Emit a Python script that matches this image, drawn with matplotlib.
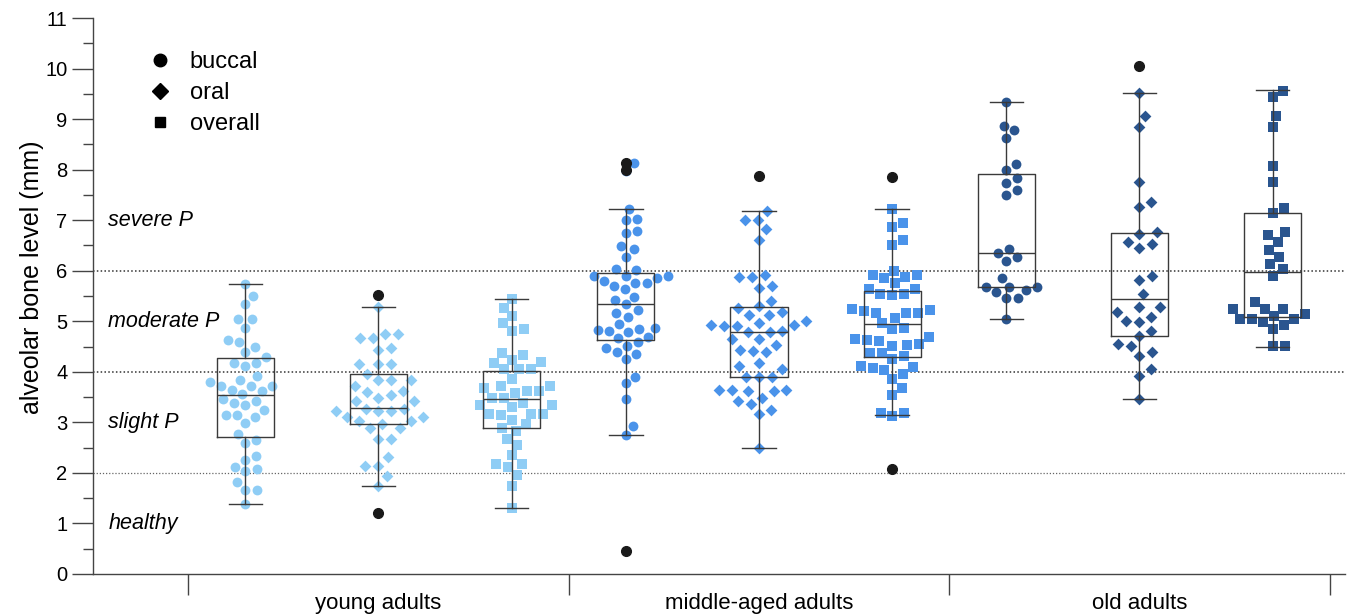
import numpy as np
import matplotlib
matplotlib.use("Agg")
import matplotlib.pyplot as plt
from matplotlib.lines import Line2D

plt.rcParams["font.family"] = ["Liberation Sans", "DejaVu Sans"]

groups = ["young adults", "middle-aged adults", "old adults"]
sites = ["buccal", "oral", "overall"]
site_markers = ["o", "D", "s"]
group_colors = ["#8fcdf5", "#4a93ea", "#2a558f"]
zones = ["healthy", "slight P", "moderate P", "severe P"]
zone_levels = [1, 3, 5, 7]
cutoffs = [2, 4, 6]

young_buccal = [5.73, 5.50, 5.34, 5.05, 5.05, 4.87, 4.63, 4.58, 4.50, 4.39, 4.29, 4.18, 4.18,
                4.11, 3.91, 3.83, 3.80, 3.72, 3.72, 3.72, 3.65, 3.62, 3.56, 3.47, 3.42, 3.38,
                3.34, 3.25, 3.15, 3.15, 3.11, 2.99, 2.77, 2.65, 2.59, 2.34, 2.26, 2.11, 2.08,
                2.03, 1.82, 1.67, 1.67, 1.38]
young_oral = [5.29, 4.74, 4.74, 4.66, 4.66, 4.48, 4.43, 4.16, 4.16, 4.16, 3.96, 3.84, 3.84,
              3.84, 3.72, 3.63, 3.60, 3.55, 3.48, 3.43, 3.43, 3.27, 3.27, 3.22, 3.22, 3.22,
              3.10, 3.10, 3.02, 3.02, 2.97, 2.88, 2.88, 2.68, 2.68, 2.31, 2.14, 2.14, 1.94, 1.74]
young_overall = [5.44, 5.27, 5.11, 4.97, 4.84, 4.81, 4.38, 4.33, 4.24, 4.19, 4.17, 4.05, 4.05,
                 4.05, 3.86, 3.72, 3.72, 3.67, 3.63, 3.62, 3.59, 3.49, 3.49, 3.39, 3.34, 3.34,
                 3.31, 3.17, 3.17, 3.17, 3.15, 3.05, 2.96, 2.89, 2.82, 2.67, 2.56, 2.35, 2.18,
                 2.18, 2.11, 1.96, 1.75, 1.30]
middle_buccal = [8.13, 7.98, 7.22, 7.02, 7.00, 6.79, 6.75, 6.48, 6.43, 6.27, 6.03, 6.01, 5.90,
                 5.90, 5.90, 5.85, 5.79, 5.75, 5.75, 5.70, 5.63, 5.49, 5.42, 5.34, 5.22, 5.17,
                 5.09, 4.95, 4.86, 4.84, 4.82, 4.81, 4.79, 4.69, 4.66, 4.58, 4.51, 4.48, 4.40,
                 4.35, 4.26, 3.90, 3.77, 3.47, 2.92, 2.74]
middle_oral = [7.19, 7.01, 7.01, 6.82, 6.61, 5.91, 5.87, 5.87, 5.69, 5.65, 5.40, 5.30, 5.27,
               5.19, 5.12, 5.12, 5.01, 4.96, 4.93, 4.92, 4.90, 4.90, 4.81, 4.79, 4.79, 4.64,
               4.64, 4.54, 4.44, 4.41, 4.39, 4.17, 4.12, 4.06, 3.90, 3.90, 3.90, 3.65, 3.65,
               3.65, 3.62, 3.62, 3.49, 3.42, 3.37, 3.25, 3.17, 2.49]
middle_overall = [7.22, 6.95, 6.86, 6.60, 6.50, 6.00, 5.91, 5.91, 5.87, 5.86, 5.75, 5.63, 5.63,
                  5.54, 5.54, 5.52, 5.24, 5.22, 5.20, 5.17, 5.17, 5.17, 5.07, 4.97, 4.87, 4.84,
                  4.68, 4.64, 4.63, 4.61, 4.56, 4.54, 4.51, 4.38, 4.38, 4.31, 4.25, 4.11, 4.09,
                  4.08, 4.03, 3.95, 3.85, 3.68, 3.55, 3.18, 3.18, 3.12]
old_buccal = [9.34, 8.86, 8.78, 8.62, 8.11, 7.99, 7.83, 7.73, 7.60, 7.50, 6.43, 6.36, 6.27,
              6.20, 5.85, 5.68, 5.68, 5.68, 5.62, 5.57, 5.46, 5.46, 5.04]
old_oral = [9.52, 9.07, 8.84, 7.76, 7.36, 7.26, 6.76, 6.73, 6.57, 6.53, 6.44, 5.90, 5.82, 5.54,
            5.29, 5.29, 5.18, 5.09, 5.00, 4.99, 4.81, 4.70, 4.55, 4.51, 4.40, 4.32, 4.05, 3.92,
            3.47]
old_overall = [9.55, 9.44, 9.07, 8.84, 8.07, 7.75, 7.24, 7.14, 6.76, 6.71, 6.57, 6.41, 6.28,
               6.13, 6.03, 5.90, 5.39, 5.25, 5.25, 5.25, 5.15, 5.10, 5.05, 5.05, 5.05, 4.99,
               4.92, 4.84, 4.51, 4.51]

# box statistics (Tukey boxes as drawn in the figure), same order as the series
box_q1 = [2.71, 2.96, 2.89, 4.62, 3.90, 4.29, 5.68, 4.70, 5.08]
box_med = [3.55, 3.29, 3.47, 5.34, 4.78, 4.95, 6.36, 5.44, 5.97]
box_q3 = [4.27, 3.95, 4.02, 5.95, 5.29, 5.60, 7.91, 6.74, 7.14]
box_lo = [1.38, 1.74, 1.30, 2.74, 2.49, 3.14, 5.04, 3.47, 4.49]
box_hi = [5.73, 5.29, 5.44, 7.22, 7.19, 7.22, 9.34, 9.52, 9.58]
box_out = [[], [5.52, 1.20], [], [8.13, 8.00, 0.46], [7.87], [7.86, 2.08], [], [10.05], []]

series = [young_buccal, young_oral, young_overall,
          middle_buccal, middle_oral, middle_overall,
          old_buccal, old_oral, old_overall]


def swarm_x(ax, xc, ys, d):
    """simple beeswarm in pixel space, returns data x positions"""
    pts = ax.transData.transform(np.column_stack([np.full(len(ys), xc), ys]))
    order = np.argsort(pts[:, 1])
    placed = []
    off = np.zeros(len(ys))
    for i in order:
        y = pts[i, 1]
        near = [(px, py) for px, py in placed if abs(py - y) < d]
        cands = [0.0]
        for px, py in near:
            dx = np.sqrt(d * d - (py - y) ** 2)
            cands += [px + dx, px - dx]
        cands.sort(key=lambda c: (round(abs(c), 3), -c))
        for c in cands:
            if all((c - px) ** 2 + (y - py) ** 2 >= d * d - 1e-6 for px, py in near):
                break
        placed.append((c, y))
        off[i] = c
    x0 = ax.transData.transform([(xc, 0)])[0, 0]
    inv = ax.transData.inverted()
    return inv.transform(np.column_stack([x0 + off, pts[:, 1]]))[:, 0]


fig = plt.figure(figsize=(13.49, 6.15), dpi=100)
ax = fig.add_axes([0.069, 0.0667, 0.928, 0.904])
ax.set_xlim(-0.75, 2.54)
ax.set_ylim(0, 11)

for lvl, c, lw in zip(cutoffs, ["#666666", "#333333", "#333333"], [0.9, 1.1, 1.1]):
    ax.axhline(lvl, color=c, ls=(0, (1, 1.5)), lw=lw, zorder=1)

offsets = [-0.35, 0.0, 0.35]
marker_size = {"o": 50, "D": 36, "s": 52}
collide = {"o": 11.5, "D": 13.0, "s": 12.0}
stats = []
positions = []
for gi in range(3):
    for si in range(3):
        k = gi * 3 + si
        xc = gi + offsets[si]
        positions.append(xc)
        m = site_markers[si]
        ys = np.array(series[k])
        xs = swarm_x(ax, xc, ys, collide[m])
        ax.scatter(xs, ys, s=marker_size[m], marker=m, color=group_colors[gi],
                   linewidths=0, zorder=3)
        stats.append(dict(q1=box_q1[k], med=box_med[k], q3=box_q3[k],
                          whislo=box_lo[k], whishi=box_hi[k], fliers=box_out[k]))

lc = "#3a3a3a"
ax.bxp(stats, positions=positions, widths=0.15, capwidths=0.088,
       boxprops=dict(color=lc, lw=1.0), whiskerprops=dict(color=lc, lw=1.0),
       capprops=dict(color=lc, lw=1.0), medianprops=dict(color=lc, lw=1.0),
       flierprops=dict(marker="o", markerfacecolor="#1a1a1a", markeredgecolor="#1a1a1a",
                       markersize=7), zorder=4, manage_ticks=False)

for name, lvl in zip(zones, zone_levels):
    ax.text(-0.71, lvl, name, style="italic", fontsize=15.5, va="center", ha="left")

# axes styling
for s in ["top", "right"]:
    ax.spines[s].set_visible(False)
for s in ["left", "bottom"]:
    ax.spines[s].set_color("#444444")
    ax.spines[s].set_linewidth(1.0)
ax.set_yticks(range(0, 12))
ax.set_yticks(np.arange(0.5, 11, 1.0), minor=True)
ax.tick_params(axis="y", which="major", length=15, width=1, color="#444444",
               labelsize=14.5, pad=3.5)
ax.tick_params(axis="y", which="minor", length=7, width=1, color="#444444")
ax.set_xticks(range(3))
ax.set_xticklabels(groups)
ax.set_xticks([-0.5, 0.5, 1.5, 2.5], minor=True)
ax.tick_params(axis="x", which="major", length=0, labelsize=16, pad=14)
ax.tick_params(axis="x", which="minor", length=15, width=1, color="#444444")
ax.set_ylabel("alveolar bone level (mm)", fontsize=18)
ax.yaxis.set_label_coords(-0.039, 0.534)

handles = [Line2D([], [], marker=m, ls="", color="black", markersize=ms)
           for m, ms in zip(site_markers, [9, 8, 7.7])]
ax.legend(handles, sites, loc="upper left", bbox_to_anchor=(0.044, 0.94),
          frameon=False, fontsize=17, handlelength=1.0, handletextpad=0.76,
          labelspacing=0.38, borderpad=0, borderaxespad=0)

fig.savefig("out.png", dpi=100)
